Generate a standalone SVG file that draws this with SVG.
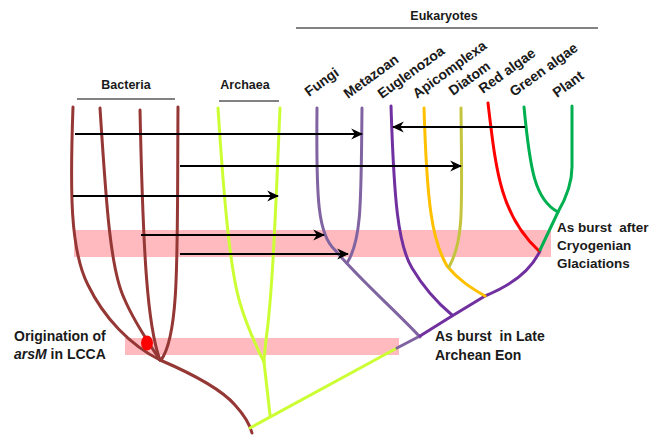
<svg xmlns="http://www.w3.org/2000/svg" width="651" height="435" viewBox="0 0 651 435">
<defs>
<style>
.t{font-family:"Liberation Sans",Arial,sans-serif;font-weight:bold;font-size:12.5px;fill:#1a1a1a}
.x{font-family:"Liberation Sans",Arial,sans-serif;font-weight:bold;font-size:13.5px;fill:#1a1a1a}
.n{font-family:"Liberation Sans",Arial,sans-serif;font-weight:bold;font-size:14px;fill:#1a1a1a}
.br{fill:none;stroke-width:3;stroke-linecap:round;stroke-linejoin:round}
.bac{stroke:#953735}
.arc{stroke:#CCFF33}
.fun{stroke:#8064A2}
.eug{stroke:#7030A0}
.api{stroke:#FFC000}
.dia{stroke:#C4C43E}
.red{stroke:#FF0000}
.grn{stroke:#00B050}
.hdr{stroke:#595959;stroke-width:1.5}
.band{fill:#FFBAC0}
.arr{stroke:#000;stroke-width:2;fill:none;marker-end:url(#ah)}
</style>
<marker id="ah" markerUnits="userSpaceOnUse" markerWidth="12" markerHeight="12" viewBox="0 0 10 10" refX="9" refY="5" orient="auto">
<path d="M0,0.5 L10,5 L0,9.5 L3,5 Z" fill="#000"/>
</marker>
</defs>
<rect width="651" height="435" fill="#fff"/>
<g id="bands">
<rect class="band" x="74" y="230" width="477" height="27"/>
<rect class="band" x="125" y="338" width="274" height="17"/>
</g>
<g id="headers">
<g id="hdr-bacteria"><line class="hdr" x1="77" y1="99" x2="175" y2="99"/><text class="t" x="126" y="89" text-anchor="middle">Bacteria</text></g>
<g id="hdr-archaea"><line class="hdr" x1="219" y1="101" x2="279" y2="101"/><text class="t" x="245" y="89" text-anchor="middle">Archaea</text></g>
<g id="hdr-eukaryotes"><line class="hdr" x1="296" y1="28" x2="598" y2="28"/><text class="t" x="444" y="20" text-anchor="middle">Eukaryotes</text></g>
</g>
<g id="bacteria">
<path class="br bac" d="M73,107 C70,190 70,250 88,285 C104,318 130,345 160,360"/>
<path class="br bac" d="M100,108 C106,200 110,268 124,298 C134,322 150,345 160,360"/>
<path class="br bac" d="M140,110 C143,250 147,325 160,360"/>
<path class="br bac" d="M178,107 C177,250 180,335 161,360"/>
<path class="br bac" d="M160,360 C195,375 222,390 235,405 C245,416 250,425 252,433"/>
<ellipse id="origin-dot" cx="147" cy="343" rx="6" ry="7.5" fill="#FF0000"/>
</g>
<g id="archaea">
<path class="br arc" d="M218,108 C224,200 230,270 240,303 C248,330 258,350 264,362"/>
<path class="br arc" d="M280,108 C276,200 273,290 266,340 C265,350 264,357 264,362"/>
<path class="br arc" d="M264,362 L270,415"/>
<path class="br arc" d="M250,428 L397,348"/>
</g>
<g id="eukaryotes">
<path id="fungi" class="br fun" d="M317,108 C316,200 318,235 335,250 C360,280 395,310 420,337"/>
<path id="metazoan" class="br fun" d="M362,108 C361,200 362,240 347,263"/>
<path id="stem" class="br fun" d="M397,348 L420,336"/>
<path id="euglenozoa" class="br eug" d="M391,106 C394,200 398,245 412,268 C425,290 440,305 452,315"/>
<path class="br eug" d="M420,336 L452,316 L485,296 C510,286 530,272 540,251"/>
<path id="apicomplexa" class="br api" d="M424,108 C427,205 432,240 447,266 C460,282 475,290 485,296"/>
<path id="diatom" class="br dia" d="M461,108 C462,210 464,240 449,267"/>
<path id="redalgae" class="br red" d="M488,103 C496,170 500,215 539,251"/>
<path id="greenalgae" class="br grn" d="M524,107 C530,170 535,200 558,212"/>
<path id="plant" class="br grn" d="M572,106 L572,167 C572,185 565,200 558,212 L540,250"/>
</g>
<g id="taxa">
<text class="n" transform="translate(309,97) rotate(-36)">Fungi</text>
<text class="n" transform="translate(348,99) rotate(-36)">Metazoan</text>
<text class="n" transform="translate(382,99) rotate(-36)">Euglenozoa</text>
<text class="n" transform="translate(417,99) rotate(-36)">Apicomplexa</text>
<text class="n" transform="translate(453,96) rotate(-36)">Diatom</text>
<text class="n" transform="translate(483,94) rotate(-36)">Red algae</text>
<text class="n" transform="translate(514,97) rotate(-36)">Green algae</text>
<text class="n" transform="translate(557,98) rotate(-36)">Plant</text>
</g>
<g id="annotations">
<g id="note-origin"><text class="n" x="14" y="341">Origination of</text><text class="n" x="14" y="359"><tspan font-style="italic">arsM</tspan> in LCCA</text></g>
<g id="note-archean"><text class="n" x="435" y="341" xml:space="preserve">As burst  in Late</text><text class="n" x="435" y="360">Archean Eon</text></g>
<g id="note-cryo"><text class="x" x="557" y="232" xml:space="preserve">As burst  after</text><text class="x" x="557" y="250">Cryogenian</text><text class="x" x="557" y="268">Glaciations</text></g>
</g>
<g id="connectors">
<line class="arr" x1="75" y1="134" x2="362" y2="134"/>
<line class="arr" x1="180" y1="166" x2="461" y2="166"/>
<line class="arr" x1="73" y1="196" x2="278" y2="196"/>
<line class="arr" x1="141" y1="235" x2="324" y2="235"/>
<line class="arr" x1="180" y1="254" x2="348" y2="254"/>
<line class="arr" x1="525" y1="127" x2="393" y2="127"/>
</g>
</svg>
